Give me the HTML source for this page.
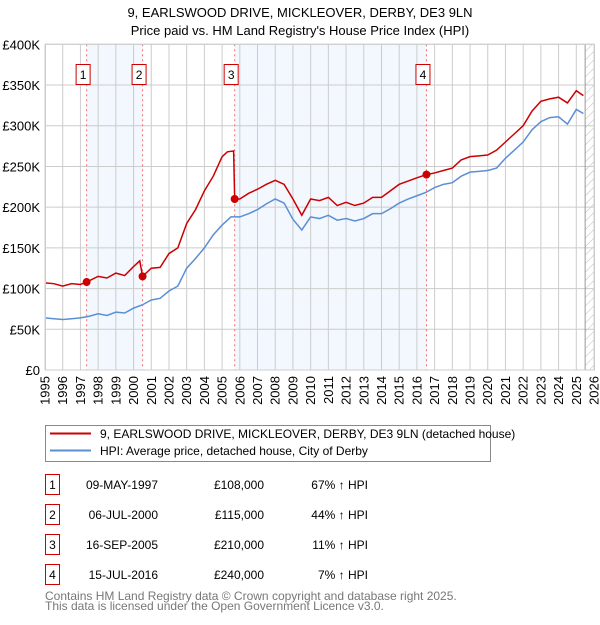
<!DOCTYPE html>
<html><head><meta charset="utf-8"><style>
body{margin:0;background:#fff;font-family:"Liberation Sans",sans-serif;}
svg text{font-family:"Liberation Sans",sans-serif;}
</style></head><body>
<svg id="chart" width="600" height="620" xmlns="http://www.w3.org/2000/svg">
<defs><pattern id="hatch" width="6" height="6" patternUnits="userSpaceOnUse" patternTransform="rotate(45)"><line x1="0" y1="0" x2="0" y2="6" stroke="#bbb" stroke-width="1"/></pattern></defs>
<text x="300" y="17" text-anchor="middle" font-size="13">9, EARLSWOOD DRIVE, MICKLEOVER, DERBY, DE3 9LN</text>
<text x="300" y="35" text-anchor="middle" font-size="13">Price paid vs. HM Land Registry's House Price Index (HPI)</text>
<g id="plot"></g>
<g>
<rect x="45.5" y="425.5" width="445" height="36" fill="#fff" stroke="#888"/>
<line x1="50" y1="433.5" x2="91" y2="433.5" stroke="#cc0000" stroke-width="2"/>
<text x="100" y="438" font-size="12">9, EARLSWOOD DRIVE, MICKLEOVER, DERBY, DE3 9LN (detached house)</text>
<line x1="50" y1="450.5" x2="91" y2="450.5" stroke="#5b8fd4" stroke-width="2"/>
<text x="100" y="455" font-size="12">HPI: Average price, detached house, City of Derby</text>
</g>
<g id="table" font-size="12"></g>
<text x="45" y="600" font-size="12" fill="#777">Contains HM Land Registry data © Crown copyright and database right 2025.</text>
<text x="45" y="610" font-size="12" fill="#777">This data is licensed under the Open Government Licence v3.0.</text>
</svg>
<script>
const yTicks=[0,50,100,150,200,250,300,350,400];
const yTickLabels=["£0","£50K","£100K","£150K","£200K","£250K","£300K","£350K","£400K"];
const hpiYears=[1995,1995.5,1996,1996.5,1997,1997.5,1998,1998.5,1999,1999.5,2000,2000.5,2001,2001.5,2002,2002.5,2003,2003.5,2004,2004.5,2005,2005.5,2006,2006.5,2007,2007.5,2008,2008.5,2009,2009.5,2010,2010.5,2011,2011.5,2012,2012.5,2013,2013.5,2014,2014.5,2015,2015.5,2016,2016.5,2017,2017.5,2018,2018.5,2019,2019.5,2020,2020.5,2021,2021.5,2022,2022.5,2023,2023.5,2024,2024.5,2025,2025.4];
const hpiValues=[64,63,62,63,64,66,69,67,71,70,76,80,86,88,97,103,125,137,150,166,178,188,188,192,197,204,210,205,185,172,188,186,190,184,186,183,186,192,192,198,205,210,214,218,224,228,230,238,243,244,245,248,260,270,280,295,305,310,311,302,320,315];
const priceYears=[1995,1995.5,1996,1996.5,1997,1997.35,1998,1998.5,1999,1999.5,2000,2000.35,2000.51,2001,2001.5,2002,2002.5,2003,2003.5,2004,2004.5,2005,2005.3,2005.65,2005.71,2006,2006.5,2007,2007.5,2008,2008.5,2009,2009.5,2010,2010.5,2011,2011.5,2012,2012.5,2013,2013.5,2014,2014.5,2015,2015.5,2016,2016.54,2017,2017.5,2018,2018.5,2019,2019.5,2020,2020.5,2021,2021.5,2022,2022.5,2023,2023.5,2024,2024.5,2025,2025.4];
const priceValues=[107,106,103,106,105,108,115,113,119,116,127,134,115,125,126,143,150,180,197,220,238,262,268,269,210,210,217,222,228,233,228,210,190,210,208,212,202,206,202,205,212,212,220,228,232,236,240,242,245,248,258,262,263,264,270,280,290,300,318,330,333,335,328,343,337];
const saleLabels=["1","2","3","4"];
const saleYears=[1997.35,2000.51,2005.71,2016.54];
const salePrices=[108,115,210,240];
const saleDates=["09-MAY-1997","06-JUL-2000","16-SEP-2005","15-JUL-2016"];
const salePriceText=["£108,000","£115,000","£210,000","£240,000"];
const salePctText=["67% ↑ HPI","44% ↑ HPI","11% ↑ HPI","7% ↑ HPI"];
const xYears=[1995,1996,1997,1998,1999,2000,2001,2002,2003,2004,2005,2006,2007,2008,2009,2010,2011,2012,2013,2014,2015,2016,2017,2018,2019,2020,2021,2022,2023,2024,2025,2026];
const L=45,R=594,T=44.3,B=370,X0=1995,X1=2026,YMAX=400,forecastStart=2025.5;
const xs=v=>L+(v-X0)/(X1-X0)*(R-L);
const ys=v=>B-v/YMAX*(B-T);
const NS="http://www.w3.org/2000/svg";
const plot=document.getElementById('plot');
function mk(tag,attrs,parent){const e=document.createElementNS(NS,tag);for(const k in attrs)e.setAttribute(k,attrs[k]);(parent||plot).appendChild(e);return e;}
[[0,1],[2,3]].forEach(p=>{const r=mk('rect',{x:xs(saleYears[p[0]]),y:T,width:xs(saleYears[p[1]])-xs(saleYears[p[0]]),height:B-T,fill:'#eef3fd',opacity:0.7});

});
const hr=mk('rect',{x:xs(forecastStart),y:T,width:R-xs(forecastStart),height:B-T,fill:'url(#hatch)'});


xYears.forEach(yr=>{const g=mk('line',{x1:xs(yr),x2:xs(yr),y1:T,y2:B,stroke:'#ccc','stroke-width':1});


const t=mk('text',{x:0,y:0,'font-size':13,'text-anchor':'end',transform:`translate(${xs(yr)+4.5},${B+6}) rotate(-90)`});t.textContent=yr;

});
yTicks.forEach((v,i)=>{const g=mk('line',{x1:L,x2:R,y1:ys(v),y2:ys(v),stroke:'#ccc','stroke-width':1});


const t=mk('text',{x:40,y:ys(v)+5,'font-size':13,'text-anchor':'end'});t.textContent=yTickLabels[i];

});
const fl=mk('line',{x1:xs(forecastStart),x2:xs(forecastStart),y1:T,y2:B,stroke:'#999','stroke-width':1});


saleYears.forEach((yr,i)=>{const l=mk('line',{x1:xs(yr),x2:xs(yr),y1:T,y2:B,stroke:'#f07070','stroke-width':1,'stroke-dasharray':'2,3'});


const r=mk('rect',{x:xs(yr)-10.5,y:64.5,width:14,height:20,fill:'#fff',stroke:'#cc0000'});


const t=mk('text',{x:xs(yr)-3.5,y:79,'font-size':12,'text-anchor':'middle'});t.textContent=saleLabels[i];

});
const hp=mk('polyline',{points:hpiYears.map((y,i)=>xs(y)+','+ys(hpiValues[i])).join(' '),fill:'none',stroke:'#5b8fd4','stroke-width':1.5});


const pp=mk('polyline',{points:priceYears.map((y,i)=>xs(y)+','+ys(priceValues[i])).join(' '),fill:'none',stroke:'#cc0000','stroke-width':1.5});


saleYears.forEach((yr,i)=>{const c=mk('circle',{cx:xs(yr),cy:ys(salePrices[i]),r:4,fill:'#cc0000'});

});
const fr=mk('rect',{x:L+0.5,y:T,width:R-L,height:B-T,fill:'none',stroke:'#ccc'});


const tb=document.getElementById('table');
saleLabels.forEach((lab,i)=>{const y=483+i*30;
const r=mk('rect',{x:45.5,y:y-8.5,width:14,height:20,fill:'#fff',stroke:'#cc0000'},tb);


const vals=[[52.5,lab,'middle'],[158,saleDates[i],'end'],[264,salePriceText[i],'end'],[368,salePctText[i],'end']];
vals.forEach(v=>{const t=mk('text',{x:v[0],y:y+6,'text-anchor':v[2]},tb);t.textContent=v[1];

});});
</script>
</body></html>
